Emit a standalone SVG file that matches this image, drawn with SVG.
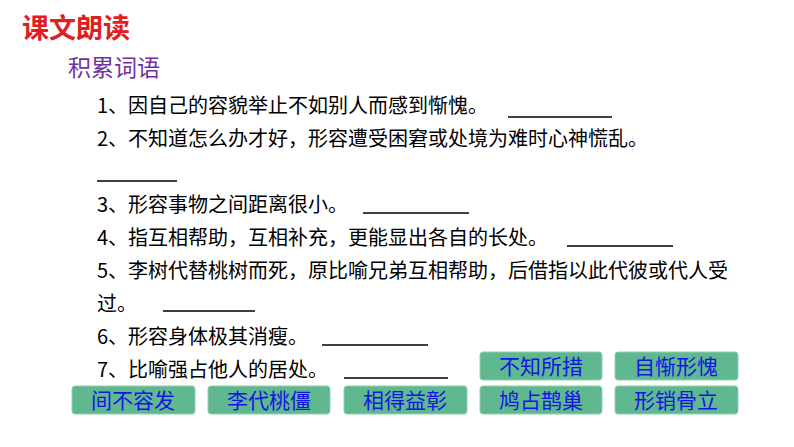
<svg xmlns="http://www.w3.org/2000/svg" width="794" height="447" viewBox="0 0 794 447">
<style>
text{font-family:"Noto Sans CJK SC","Noto Sans",sans-serif}
.t{font-size:20px;fill:#000}
.u{stroke:#000;stroke-width:1.5}
.b rect{fill:#5fb88f;stroke:#8fd0b0;stroke-width:1}
.b text{font-size:21px;fill:#1414e6;text-anchor:middle}
</style>
<rect width="794" height="447" fill="#fff"/>
<text x="22" y="38" font-size="27" font-weight="bold" fill="#e02020">课文朗读</text>
<text x="68" y="76" font-size="23" fill="#7030a0">积累词语</text>
<g id="lines">
<text class="t" x="97" y="113">1、因自己的容貌举止不如别人而感到惭愧。</text>
<text class="t" x="97" y="146">2、不知道怎么办才好，形容遭受困窘或处境为难时心神慌乱。</text>
<text class="t" x="97" y="212">3、形容事物之间距离很小。</text>
<text class="t" x="97" y="245">4、指互相帮助，互相补充，更能显出各自的长处。</text>
<text class="t" x="97" y="278">5、李树代替桃树而死，原比喻兄弟互相帮助，后借指以此代彼或代人受</text>
<text class="t" x="97" y="311">过。</text>
<text class="t" x="97" y="344">6、形容身体极其消瘦。</text>
<text class="t" x="97" y="377">7、比喻强占他人的居处。</text>
</g>
<g id="connectors">
<line class="u" x1="508" y1="117" x2="612" y2="117"/>
<line class="u" x1="97" y1="181" x2="177" y2="181"/>
<line class="u" x1="363" y1="213" x2="469" y2="213"/>
<line class="u" x1="567" y1="246" x2="673" y2="246"/>
<line class="u" x1="163" y1="311" x2="255" y2="311"/>
<line class="u" x1="322" y1="345" x2="428" y2="345"/>
<line class="u" x1="344" y1="378" x2="448" y2="378"/>
</g>
<g id="b1" class="b"><rect x="480" y="352" width="122" height="28" rx="3"/><text x="541" y="374">不知所措</text></g>
<g id="b2" class="b"><rect x="615" y="352" width="123" height="28" rx="3"/><text x="676" y="374">自惭形愧</text></g>
<g id="b3" class="b"><rect x="72" y="386" width="123" height="28" rx="3"/><text x="133" y="408">间不容发</text></g>
<g id="b4" class="b"><rect x="208" y="386" width="122" height="28" rx="3"/><text x="269" y="408">李代桃僵</text></g>
<g id="b5" class="b"><rect x="344" y="386" width="123" height="28" rx="3"/><text x="405" y="408">相得益彰</text></g>
<g id="b6" class="b"><rect x="480" y="386" width="122" height="28" rx="3"/><text x="541" y="408">鸠占鹊巢</text></g>
<g id="b7" class="b"><rect x="615" y="386" width="123" height="28" rx="3"/><text x="676" y="408">形销骨立</text></g>
</svg>
